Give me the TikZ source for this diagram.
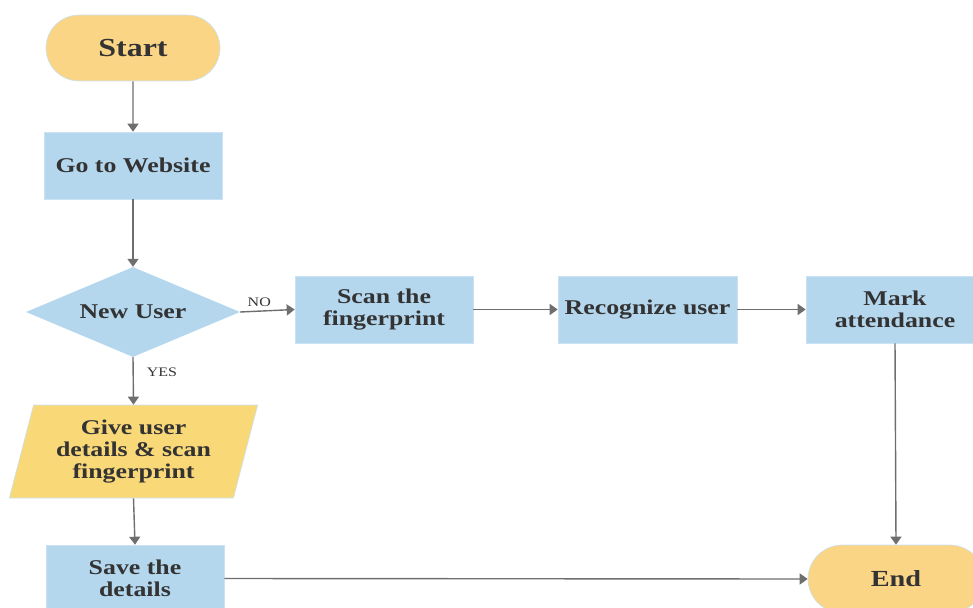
\documentclass[tikz,border=0pt]{standalone}
\usepackage{fontspec}
\setmainfont{Liberation Serif}[FakeStretch=1.23]
\usetikzlibrary{shapes.geometric,shapes.misc,arrows.meta}
\definecolor{boxblue}{HTML}{B4D7EE}
\definecolor{boxedge}{HTML}{C9E3F4}
\definecolor{termyellow}{HTML}{FBD586}
\definecolor{ioyellow}{HTML}{F9D878}
\definecolor{txt}{HTML}{333333}
\definecolor{linegray}{HTML}{6E6E6E}
\begin{document}
\begin{tikzpicture}[x=1pt,y=-1pt,
  base/.style={font=\bfseries\fontsize{21}{22}\selectfont, text=txt, align=center, inner sep=2pt},
  proc/.style={base, rectangle, fill=boxblue, draw=boxedge, line width=0.6pt, minimum width=178pt, minimum height=67pt},
  term/.style={base, rounded rectangle, fill=termyellow, draw=boxedge, line width=0.6pt, minimum width=178pt, minimum height=66pt},
  dec/.style={base, diamond, fill=boxblue, minimum width=214pt, minimum height=90pt, inner sep=0pt, aspect=2.4},
  io/.style={base, trapezium, trapezium left angle=74, trapezium right angle=106, trapezium stretches=true, minimum width=249pt, minimum height=93pt, fill=ioyellow, draw=boxedge, line width=0.6pt},
  conn/.style={draw=linegray, line width=1.4pt, -{Triangle[length=8pt,width=11pt]}},
  lbl/.style={font=\fontsize{13}{14}\selectfont, text=txt, inner sep=1pt}
]
\useasboundingbox (0,0) rectangle (973,607);
\clip (0,0) rectangle (973,607);

\node[term, font=\bfseries\fontsize{26}{28}\selectfont] (start) at (133,48) {Start};
\node[proc] (web) at (133,165.5) {Go to Website};
\node[dec] (new) at (133,312) {New User};
\node[proc] (scan) at (384,309.5) {Scan the\\fingerprint};
\node[proc, minimum width=179pt] (rec) at (647.5,309.5) {Recognize user};
\node[proc] (mark) at (895,309.5) {Mark\\attendance};
\node[io] (give) at (133.5,451.5) {Give user\\details \& scan\\fingerprint};
\node[proc] (save) at (135,578.5) {Save the\\details};
\node[term, minimum width=180pt, minimum height=68pt, font=\bfseries\fontsize{23}{25}\selectfont] (end) at (896,579) {End};

\draw[conn] (start) -- (web);
\draw[conn] (web) -- (new);
\draw[conn] (new.east) -- node[lbl, pos=0.35, above=3pt] {NO} (scan.west);
\draw[conn] (scan) -- (rec);
\draw[conn] (rec) -- (mark);
\draw[conn] (mark.south) -- (end.north);
\draw[conn] (new.south) -- node[lbl, pos=0.32, right=12pt] {YES} (give.north);
\draw[conn] (give.south) -- (save.north);
\draw[conn] (save.east) -- (end.west);
\end{tikzpicture}
\end{document}
